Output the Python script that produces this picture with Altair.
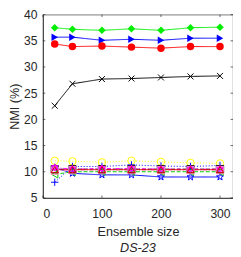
import altair as alt
import pandas as pd

ens = [20, 50, 100, 150, 200, 250, 300]

series_names = ["green_d", "blue_tr", "red_o", "black_x",
                "yellow_o", "blue_plus", "blue_star", "green_tl",
                "black_sq", "pink_dd", "magenta_hex", "red_tu"]
values = {
    "green_d":     [37.5, 37.2, 37.0, 37.3, 37.0, 37.5, 37.6],
    "blue_tr":     [35.7, 35.7, 35.1, 35.3, 35.1, 35.5, 35.5],
    "red_o":       [34.4, 33.9, 34.0, 33.8, 33.6, 33.9, 33.9],
    "black_x":     [22.6, 26.8, 27.7, 27.8, 28.0, 28.2, 28.3],
    "yellow_o":    [12.1, 12.0, 11.8, 12.1, 11.9, 11.7, 11.6],
    "blue_plus":   [8.0, 11.0, 11.0, 11.3, 11.1, 11.0, 11.2],
    "blue_star":   [10.8, 9.7, 9.4, 9.4, 9.0, 9.0, 9.0],
    "green_tl":    [9.5, 10.0, 10.0, 10.0, 10.0, 10.0, 10.0],
    "black_sq":    [10.5, 10.5, 10.5, 10.5, 10.5, 10.5, 10.5],
    "pink_dd":     [10.2, 10.3, 10.3, 10.3, 10.3, 10.3, 10.3],
    "magenta_hex": [10.8, 10.5, 10.6, 10.6, 10.5, 10.5, 10.5],
    "red_tu":      [10.4, 10.4, 10.4, 10.4, 10.4, 10.4, 10.4],
}
colors = ["#00ee00", "#0000ff", "#ff0000", "#000000",
          "#ffff00", "#0000ff", "#0000ff", "#00cc00",
          "#222222", "#ff99cc", "#ff00ff", "#dd0000"]
STAR = "M0,-1L0.235,-0.324L0.951,-0.309L0.38,0.124L0.588,0.809L0,0.4L-0.588,0.809L-0.38,0.124L-0.951,-0.309L-0.235,-0.324Z"
HEX = "M0,-1L0.866,0.5L-0.866,0.5ZM0,1L0.866,-0.5L-0.866,-0.5Z"
XS = "M-0.8,-0.8L0.8,0.8M-0.8,0.8L0.8,-0.8"
PLUS = "M-1,0L1,0M0,-1L0,1"
shapes = ["diamond", "triangle-right", "circle", XS,
          "circle", PLUS, STAR, "triangle-left",
          "square", "square", HEX, "triangle-up"]
dashes = [[1, 0], [1, 0], [1, 0], [1, 0],
          [1, 2], [1, 2], [1, 0], [4, 2],
          [4, 2], [4, 2, 1, 2], [4, 2, 1, 2], [1, 0]]
sizes = [60, 55, 45, 30, 70, 45, 55, 35, 35, 35, 55, 35]
filled_series = ["green_d", "blue_tr", "red_o"]

x_ticks = [0, 100, 200, 300]
y_ticks = [5, 10, 15, 20, 25, 30, 35, 40]

rows = []
for s in series_names:
    for x, y in zip(ens, values[s]):
        rows.append({"series": s, "x": x, "y": y})
df = pd.DataFrame(rows)

W, H = 196, 189
xs = alt.Scale(domain=[0, 322], nice=False, zero=False)
ys = alt.Scale(domain=[5, 40], nice=False, zero=False)
font = "Liberation Sans"
grey = "#262626"

color = alt.Color("series:N", scale=alt.Scale(domain=series_names, range=colors), legend=None)
shape = alt.Shape("series:N", scale=alt.Scale(domain=series_names, range=shapes), legend=None)
dash = alt.StrokeDash("series:N", scale=alt.Scale(domain=series_names, range=dashes), legend=None)
size = alt.Size("series:N", scale=alt.Scale(domain=series_names, range=sizes), legend=None)

xaxis = alt.Axis(values=x_ticks, title="Ensemble size", ticks=False, labelPadding=10,
                 titlePadding=6, grid=False, labelOverlap=False)
yaxis = alt.Axis(values=y_ticks, title="NMI (%)", ticks=False, labelPadding=6,
                 titlePadding=2, grid=False, labelOverlap=False, labelBound=False)

X = alt.X("x:Q", scale=xs, axis=xaxis)
Y = alt.Y("y:Q", scale=ys, axis=yaxis)

base = alt.Chart(df)
lines = base.mark_line(strokeWidth=1, clip=True).encode(x=X, y=Y, color=color, strokeDash=dash, detail="series:N")
pts_f = base.transform_filter(alt.FieldOneOfPredicate(field="series", oneOf=filled_series)).mark_point(
    filled=True, opacity=1).encode(x=X, y=Y, color=color, shape=shape, size=size)
pts_h = base.transform_filter(~alt.FieldOneOfPredicate(field="series", oneOf=filled_series)).mark_point(
    filled=False, opacity=1, strokeWidth=1).encode(x=X, y=Y, color=color, shape=shape, size=size)

xt = pd.DataFrame({"x": x_ticks})
yt = pd.DataFrame({"y": y_ticks})
tick_b = alt.Chart(xt).mark_rule(color=grey, strokeWidth=0.7).encode(x=X, y=alt.value(H), y2=alt.value(H - 2.5))
tick_t = alt.Chart(xt).mark_rule(color=grey, strokeWidth=0.7).encode(x=X, y=alt.value(0), y2=alt.value(2.5))
tick_l = alt.Chart(yt).mark_rule(color=grey, strokeWidth=0.7).encode(y=Y, x=alt.value(0), x2=alt.value(2.5))
tick_r = alt.Chart(yt).mark_rule(color=grey, strokeWidth=0.7).encode(y=Y, x=alt.value(W), x2=alt.value(W - 2.5))

chart = alt.layer(lines, pts_h, pts_f, tick_b, tick_t, tick_l, tick_r).properties(
    width=W, height=H,
    autosize=alt.AutoSizeParams(type="none"),
    padding={"left": 36, "top": 3, "right": 0, "bottom": 55},
    title=alt.TitleParams("DS-23", orient="bottom", fontStyle="italic", fontWeight="normal",
                          font=font, fontSize=13, color=grey, offset=4),
).configure_view(stroke="#555555", strokeWidth=0.8).configure_axis(
    labelFont=font, titleFont=font, labelFontSize=12.5, titleFontSize=13,
    labelColor=grey, titleColor=grey, titleFontWeight="normal",
    domainColor=grey, domainWidth=0.8,
)

chart.save("out.html", embed_options={"renderer": "svg", "actions": False})
